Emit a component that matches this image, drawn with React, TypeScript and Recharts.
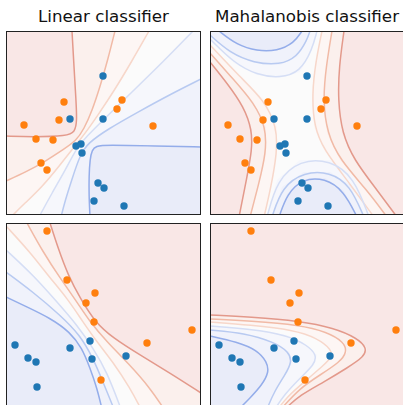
import React from "react";
import { ComposedChart, Scatter, XAxis, YAxis, Curve } from "recharts";

type Pt = [number, number];

// panel size in data units (1 unit = 1 px, y grows downward)
const W = 195;
const H = 184;

// sample points, top row (same set in both panels)
const topOrange: Pt[] = [[58, 71], [53, 89], [18, 94], [30, 108], [47, 109], [35, 132], [41, 139], [116, 69], [111, 78], [147, 95]];
const topBlue: Pt[] = [[97, 45], [64, 88], [97, 88], [70, 115], [75, 113], [76, 122], [92, 152], [98, 157], [88, 170], [118, 175]];
// sample points, bottom row
const botOrange: Pt[] = [[41, 8], [61, 57], [89, 70], [80, 80], [88, 99], [141, 120], [186, 107], [95, 157]];
const botBlue: Pt[] = [[9, 122], [22, 135], [30, 139], [31, 164], [64, 125], [84, 118], [86, 136], [120, 133]];

// linear classifier, top
const linR3: Pt[] = [[66, 0], [68, 36], [70, 69], [71, 90], [69, 101], [61, 105], [27, 106], [0, 105]];
const linR2: Pt[] = [[109, 0], [102, 28], [94, 56], [86, 80], [78, 98], [70, 110], [58, 118], [40, 130], [20, 141], [0, 150]];
const linR1: Pt[] = [[143, 0], [126, 30], [108, 60], [92, 84], [78, 104], [68, 116], [54, 134], [36, 156], [18, 173], [5, 186]];
const linB1: Pt[] = [[187, 0], [158, 30], [125, 62], [98, 88], [80, 106], [70, 118], [60, 138], [46, 162], [33, 186]];
const linB2: Pt[] = [[195, 48], [165, 63], [132, 81], [102, 98], [82, 112], [74, 124], [66, 148], [59, 170], [55, 186]];
const linB3: Pt[] = [[195, 116], [150, 115], [100, 114], [90, 115], [86, 119], [84, 128], [83, 145], [83, 165], [84, 186]];

// mahalanobis classifier, top
const mahLeftR1: Pt[] = [[0, 14], [30, 46], [54, 69], [67, 96], [67, 122], [61, 156], [54, 186]];
const mahLeftR2: Pt[] = [[0, 22], [24, 49], [44, 72], [56, 96], [56, 122], [49, 152], [40, 186]];
const mahLeftR3: Pt[] = [[0, 31], [17, 52], [34, 76], [42, 99], [42, 119], [37, 146], [29, 186]];
const mahRightR1: Pt[] = [[112, 0], [106, 29], [102, 62], [104, 96], [114, 119], [137, 149], [164, 186]];
const mahRightR2: Pt[] = [[122, 0], [116, 36], [113, 69], [117, 102], [130, 129], [157, 159], [177, 186]];
const mahRightR3: Pt[] = [[134, 0], [129, 36], [128, 69], [132, 102], [144, 129], [167, 159], [187, 186]];
const mahTopB1: Pt[] = [[0, 8], [24, 32], [47, 44], [70, 47], [90, 41], [102, 19], [107, 0]];
const mahTopB2: Pt[] = [[0, 4], [20, 22], [44, 32], [70, 34], [87, 26], [97, 9], [100, 0]];
const mahTopB3: Pt[] = [[9, 0], [27, 14], [47, 20], [67, 20], [84, 12], [92, 0]];
const mahBotB1: Pt[] = [[57, 186], [67, 149], [90, 129], [120, 129], [144, 146], [159, 186]];
const mahBotB2: Pt[] = [[62, 186], [72, 156], [94, 141], [120, 141], [140, 154], [154, 186]];
const mahBotB3: Pt[] = [[69, 186], [77, 163], [92, 148], [115, 147], [134, 160], [147, 186]];

// linear classifier, bottom
const lin2R3: Pt[] = [[44, 0], [52, 25], [62, 52], [74, 75], [89, 99], [107, 115], [134, 132], [164, 150], [195, 170]];
const lin2R2: Pt[] = [[21, 0], [37, 29], [54, 55], [71, 79], [84, 99], [101, 119], [124, 142], [144, 165], [158, 186]];
const lin2R1: Pt[] = [[0, 3], [24, 29], [44, 55], [61, 75], [77, 99], [91, 119], [107, 139], [124, 165], [135, 186]];
const lin2B1: Pt[] = [[0, 27], [27, 52], [51, 79], [71, 102], [87, 125], [101, 149], [115, 186]];
const lin2B2: Pt[] = [[0, 49], [27, 69], [54, 92], [74, 112], [87, 135], [97, 159], [108, 186]];
const lin2B3: Pt[] = [[0, 74], [21, 84], [44, 95], [64, 109], [76, 125], [84, 145], [91, 165], [96, 186]];

// mahalanobis classifier, bottom
const mah2R3: Pt[] = [[0, 92], [40, 94], [90, 98], [124, 105], [147, 115], [157, 125], [154, 134], [137, 145], [114, 159], [90, 172], [75, 186]];
const mah2R2: Pt[] = [[0, 96], [40, 98], [90, 102], [117, 109], [134, 119], [137, 129], [130, 139], [110, 152], [90, 165], [71, 186]];
const mah2R1: Pt[] = [[0, 99], [40, 102], [84, 107], [107, 115], [122, 127], [122, 134], [114, 142], [94, 159], [77, 174], [68, 186]];
const mah2B1: Pt[] = [[0, 103], [40, 106], [77, 112], [97, 122], [107, 132], [104, 142], [90, 155], [74, 172], [65, 186]];
const mah2B2: Pt[] = [[0, 107], [34, 110], [64, 119], [79, 129], [82, 139], [75, 152], [64, 169], [57, 186]];
const mah2B3: Pt[] = [[0, 113], [27, 119], [47, 127], [57, 139], [59, 149], [52, 162], [40, 175], [29, 186]];

const RED3 = "#f9e7e6";
const RED2 = "#fbf0ed";
const RED1 = "#fdf6f4";
const WHITE = "#fbfbfb";
const BLUE1 = "#f6f7fc";
const BLUE2 = "#f0f2fb";
const BLUE3 = "#e9ecf9";

const LR3 = "#e3998b";
const LR2 = "#f1baa6";
const LR1 = "#f7d7ca";
const LB1 = "#d5def5";
const LB2 = "#b8caf1";
const LB3 = "#94adea";

const TL: Pt = [0, 0];
const TR: Pt = [W, 0];
const BL: Pt = [0, 186];
const BR: Pt = [W, 186];

type Layer = { pts: Pt[]; color: string };

const panels = [
  {
    left: 6, top: 31, bg: WHITE, orange: topOrange, blue: topBlue,
    fills: [
      { pts: [...linR1, BL, TL], color: RED1 },
      { pts: [...linR2, TL], color: RED2 },
      { pts: [...linR3, TL], color: RED3 },
      { pts: [...linB1, BR, TR], color: BLUE1 },
      { pts: [...linB2, BR], color: BLUE2 },
      { pts: [...linB3, BR], color: BLUE3 },
    ],
    lines: [
      { pts: linR3, color: LR3 }, { pts: linR2, color: LR2 }, { pts: linR1, color: LR1 },
      { pts: linB1, color: LB1 }, { pts: linB2, color: LB2 }, { pts: linB3, color: LB3 },
    ],
  },
  {
    left: 209.5, top: 31, bg: WHITE, orange: topOrange, blue: topBlue,
    fills: [
      { pts: [...mahLeftR1, BL], color: RED1 },
      { pts: [...mahLeftR2, BL], color: RED2 },
      { pts: [...mahLeftR3, BL], color: RED3 },
      { pts: [...mahRightR1, BR, TR], color: RED1 },
      { pts: [...mahRightR2, BR, TR], color: RED2 },
      { pts: [...mahRightR3, BR, TR], color: RED3 },
      { pts: [...mahTopB1, TL], color: BLUE1 },
      { pts: [...mahTopB2, TL], color: BLUE2 },
      { pts: mahTopB3, color: BLUE3 },
      { pts: mahBotB1, color: BLUE1 },
      { pts: mahBotB2, color: BLUE2 },
      { pts: mahBotB3, color: BLUE3 },
    ],
    lines: [
      { pts: mahLeftR1, color: LR1 }, { pts: mahLeftR2, color: LR2 }, { pts: mahLeftR3, color: LR3 },
      { pts: mahRightR1, color: LR1 }, { pts: mahRightR2, color: LR2 }, { pts: mahRightR3, color: LR3 },
      { pts: mahTopB1, color: LB1 }, { pts: mahTopB2, color: LB2 }, { pts: mahTopB3, color: LB3 },
      { pts: mahBotB1, color: LB1 }, { pts: mahBotB2, color: LB2 }, { pts: mahBotB3, color: LB3 },
    ],
  },
  {
    left: 6, top: 223, bg: WHITE, orange: botOrange, blue: botBlue,
    fills: [
      { pts: [...lin2R1, BR, TR, TL], color: RED1 },
      { pts: [...lin2R2, BR, TR], color: RED2 },
      { pts: [...lin2R3, TR], color: RED3 },
      { pts: [...lin2B1, BL], color: BLUE1 },
      { pts: [...lin2B2, BL], color: BLUE2 },
      { pts: [...lin2B3, BL], color: BLUE3 },
    ],
    lines: [
      { pts: lin2R3, color: LR3 }, { pts: lin2R2, color: LR2 }, { pts: lin2R1, color: LR1 },
      { pts: lin2B1, color: LB1 }, { pts: lin2B2, color: LB2 }, { pts: lin2B3, color: LB3 },
    ],
  },
  {
    left: 209.5, top: 223, bg: RED3, orange: botOrange, blue: botBlue,
    fills: [
      { pts: [...mah2R3, BL], color: RED2 },
      { pts: [...mah2R2, BL], color: RED1 },
      { pts: [...mah2R1, BL], color: WHITE },
      { pts: [...mah2B1, BL], color: BLUE1 },
      { pts: [...mah2B2, BL], color: BLUE2 },
      { pts: [...mah2B3, BL], color: BLUE3 },
    ],
    lines: [
      { pts: mah2R3, color: LR3 }, { pts: mah2R2, color: LR2 }, { pts: mah2R1, color: LR1 },
      { pts: mah2B1, color: LB1 }, { pts: mah2B2, color: LB2 }, { pts: mah2B3, color: LB3 },
    ],
  },
];

const titles = [
  { text: "Linear classifier", center: 103.5 },
  { text: "Mahalanobis classifier", center: 307 },
];

const rows = (pts: Pt[]) => pts.map(([x, y]) => ({ x, y }));
const hidden = () => <g />;

function Panel({ left, top, bg, fills, lines, orange, blue }: {
  left: number; top: number; bg: string; fills: Layer[]; lines: Layer[]; orange: Pt[]; blue: Pt[];
}) {
  return (
    <div style={{ position: "absolute", left, top, width: W, height: H, background: bg, overflow: "hidden" }}>
      <ComposedChart width={W} height={H} margin={{ top: 0, right: 0, bottom: 0, left: 0 }}>
        <XAxis type="number" dataKey="x" domain={[0, W]} hide allowDataOverflow />
        <YAxis type="number" dataKey="y" domain={[0, H]} reversed hide allowDataOverflow />
        {fills.map((f, i) => (
          <Scatter
            key={"f" + i}
            data={rows(f.pts)}
            shape={hidden}
            lineType="joint"
            line={(p: any) => <Curve points={p.points} type="linear" fill={f.color} stroke="none" />}
            isAnimationActive={false}
          />
        ))}
        {lines.map((l, i) => (
          <Scatter
            key={"l" + i}
            data={rows(l.pts)}
            shape={hidden}
            lineType="joint"
            line={(p: any) => <Curve points={p.points} type="basis" fill="none" stroke={l.color} strokeWidth={1.5} />}
            isAnimationActive={false}
          />
        ))}
        <Scatter
          data={rows(orange)}
          isAnimationActive={false}
          shape={(p: any) => <circle cx={p.cx} cy={p.cy} r={3.7} fill="#ff7f0e" />}
        />
        <Scatter
          data={rows(blue)}
          isAnimationActive={false}
          shape={(p: any) => <circle cx={p.cx} cy={p.cy} r={3.7} fill="#1f77b4" />}
        />
      </ComposedChart>
      <div style={{ position: "absolute", left: 0, top: 0, width: W, height: H, border: "1px solid #222", boxSizing: "border-box", pointerEvents: "none" }} />
    </div>
  );
}

export default function App() {
  return (
    <div style={{ position: "absolute", left: 0, top: 0, width: 403, height: 405, overflow: "hidden", background: "#fff", fontFamily: "'DejaVu Sans', sans-serif" }}>
      {titles.map((t) => (
        <div key={t.text} style={{ position: "absolute", left: t.center - 120, width: 240, top: 8, textAlign: "center", fontSize: 16.7, lineHeight: "17px", color: "#111", whiteSpace: "nowrap" }}>
          {t.text}
        </div>
      ))}
      {panels.map((p, i) => (
        <Panel key={i} {...p} />
      ))}
    </div>
  );
}
